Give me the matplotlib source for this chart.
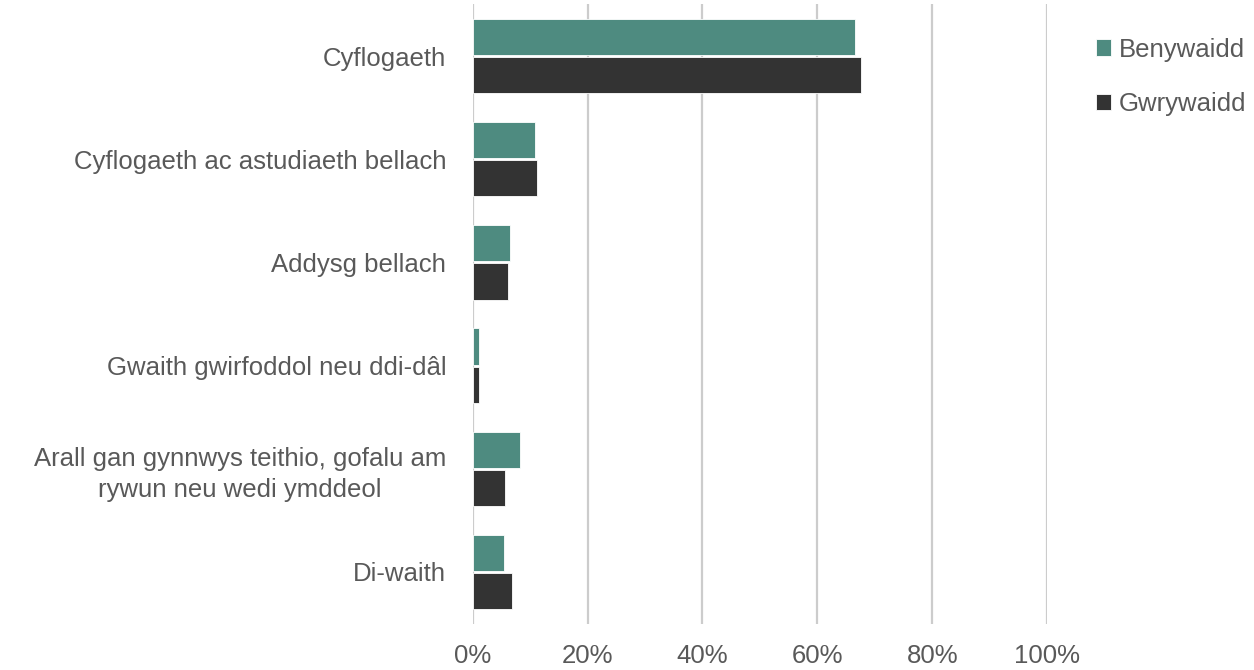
import numpy as np
import matplotlib.pyplot as plt

plt.rcParams['font.family'] = ['Liberation Sans', 'DejaVu Sans']

# data (percent)
categories = ["Cyflogaeth",
              "Cyflogaeth ac astudiaeth bellach",
              "Addysg bellach",
              "Gwaith gwirfoddol neu ddi-dâl",
              "Arall gan gynnwys teithio, gofalu am\nrywun neu wedi ymddeol",
              "Di-waith"]
benywaidd = [66.5, 10.8, 6.5, 1.1, 8.3, 5.4]
gwrywaidd = [67.6, 11.1, 6.1, 1.1, 5.7, 6.8]
ticks = [0, 20, 40, 60, 80, 100]

teal = "#4E8B80"
dark = "#333333"
grey = "#595959"

fig = plt.figure(figsize=(12.54, 6.7), dpi=100)
ax = fig.add_axes([0.377, 0.0693, 0.458, 0.924])

y = np.arange(len(categories))
h = 0.35
ax.barh(y - h / 2 - 0.01, benywaidd, height=h, color=teal, edgecolor="white",
        linewidth=0.6, label="Benywaidd", zorder=3)
ax.barh(y + h / 2 + 0.01, gwrywaidd, height=h, color=dark, edgecolor="white",
        linewidth=0.6, label="Gwrywaidd", zorder=3)

ax.set_ylim(len(categories) - 0.5, -0.5)
ax.set_xlim(0, 100)
ax.set_xticks(ticks)
ax.set_xticklabels([f"{t}%" for t in ticks], fontsize=18.5, color=grey)
ax.set_yticks(y)
ax.set_yticklabels(categories, fontsize=18.5, color=grey,
                   multialignment="center", linespacing=1.35)
ax.tick_params(axis="y", length=0, pad=19)
ax.tick_params(axis="x", length=0, pad=15)

ax.grid(axis="x", color="#CCCCCC", linewidth=1.6, zorder=0)
for s in ax.spines.values():
    s.set_visible(False)

fig.legend(loc="upper left", bbox_to_anchor=(0.874, 0.944), frameon=False,
           borderpad=0, borderaxespad=0,
           fontsize=18.5, labelcolor=grey, handlelength=0.6, handleheight=0.6,
           handletextpad=0.28, labelspacing=1.2)

plt.savefig("out.png", dpi=100)
